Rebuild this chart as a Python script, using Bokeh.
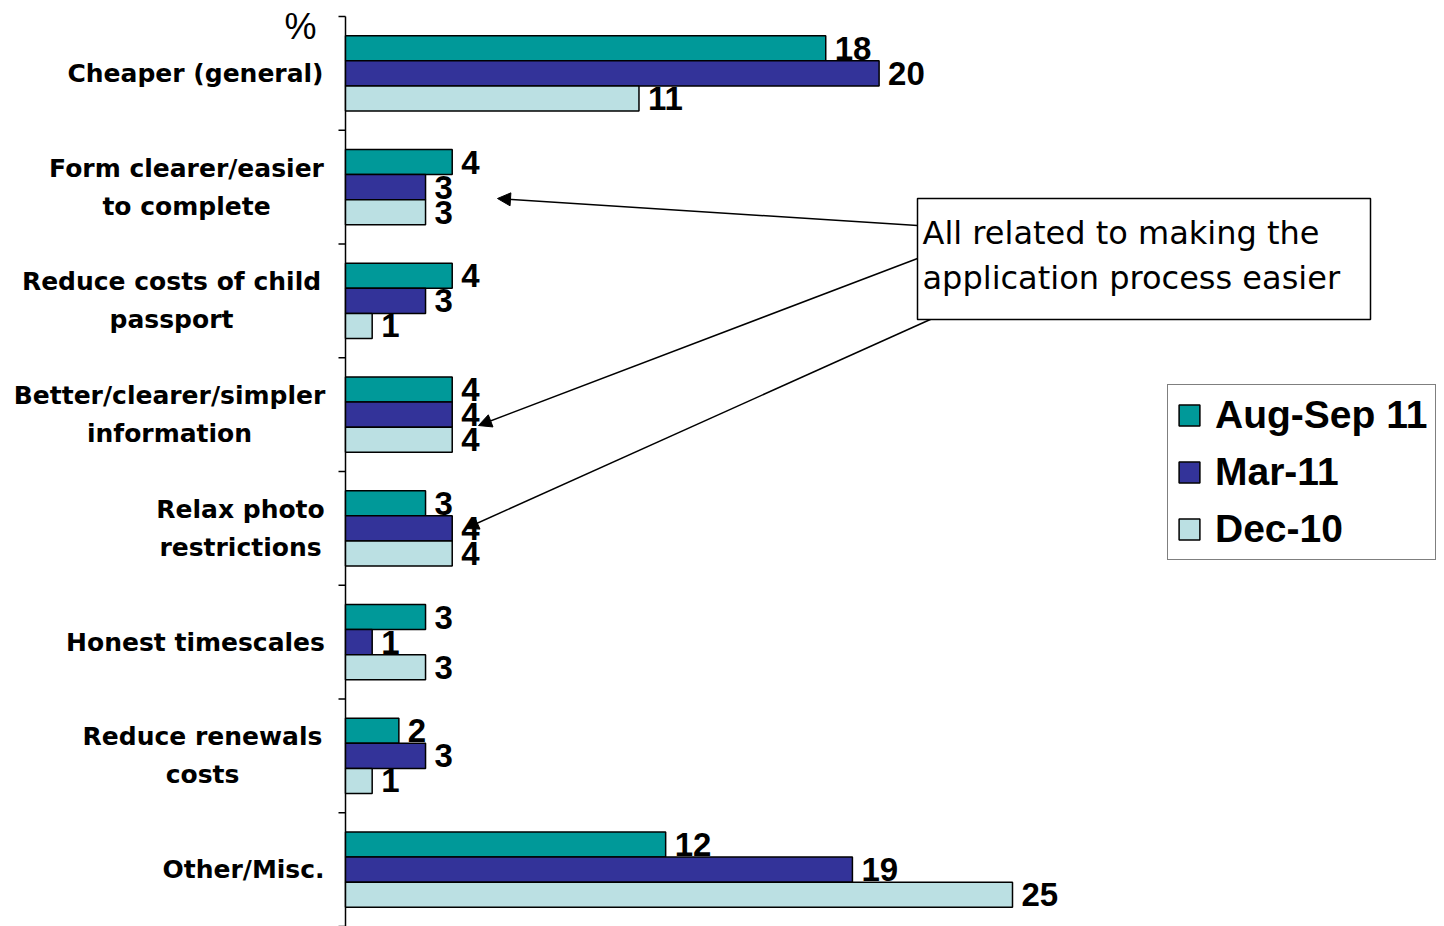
from bokeh.plotting import figure
from bokeh.models import (Range1d, Legend, LegendItem, BoxAnnotation, Arrow, NormalHead,
                          ColumnDataSource, Label)
from bokeh.core.properties import value
from bokeh.embed import file_html
from bokeh.resources import INLINE

# ---- data -------------------------------------------------------------
categories = [
    "Cheaper (general)",
    "Form clearer/easier\nto complete",
    "Reduce costs of child\npassport",
    "Better/clearer/simpler\ninformation",
    "Relax photo\nrestrictions",
    "Honest timescales",
    "Reduce renewals\ncosts",
    "Other/Misc.",
]
series_names = ["Aug-Sep 11", "Mar-11", "Dec-10"]
aug_sep_11 = [18, 4, 4, 4, 3, 3, 2, 12]
mar_11 = [20, 3, 3, 4, 4, 1, 3, 19]
dec_10 = [11, 3, 1, 4, 4, 3, 1, 25]
series_values = [aug_sep_11, mar_11, dec_10]
colors = ["#009999", "#333399", "#BBE0E3"]

# ---- layout -----------------------------------------------------------
W, H = 1444, 926
AXIS_X, TOP = 345, 16            # where the value axis (0 %) and the first band start
PX_PER_PCT = 26.68               # horizontal scale
N = len(categories)
CAT_H = (H - TOP) / N            # pixels per category band
BAR_H = 0.22                     # bar thickness in category units
TICK = 7 / PX_PER_PCT            # tick length, in value units
LINE_GAP = 38                    # line spacing of the two-line labels (px)
label_centers_px = [195, 186, 171, 169, 240, 195, 202, 243]


def px_x(px):
    return (px - AXIS_X) / PX_PER_PCT


def px_y(py):
    return (py - TOP) / CAT_H


p = figure(width=W, height=H, output_backend="svg", toolbar_location=None,
           x_range=Range1d(px_x(0), px_x(W)),
           y_range=Range1d(px_y(H), px_y(0)),
           x_axis_type=None, y_axis_type=None,
           min_border_left=0, min_border_top=0,
           min_border_right=0, min_border_bottom=0)
p.outline_line_color = None
p.background_fill_color = "white"
p.border_fill_color = "white"
p.xgrid.visible = False
p.ygrid.visible = False

# ---- category axis: spine, band ticks and labels ----------------------
p.segment(x0=[0], y0=[0], x1=[0], y1=[N], line_color="black", line_width=1.5)
bounds = list(range(N + 1))
p.segment(x0=[-TICK] * len(bounds), y0=bounds, x1=[0] * len(bounds), y1=bounds,
          line_color="black", line_width=1.5)

lab_txt, lab_y, lab_dx = [], [], []
for i, (cat, cx) in enumerate(zip(categories, label_centers_px)):
    lines = cat.split("\n")
    for k, line in enumerate(lines):
        lab_txt.append(line)
        lab_y.append(i + 0.5 + (k - (len(lines) - 1) / 2) * LINE_GAP / CAT_H)
        lab_dx.append(cx - AXIS_X)
p.text(x=0, y="y", x_offset="dx", text="t",
       source=ColumnDataSource(dict(t=lab_txt, y=lab_y, dx=lab_dx)),
       text_align="center", text_baseline="middle",
       text_font=value("DejaVu Sans"), text_font_style="bold",
       text_font_size="25px", text_color="black")

# unit marker at the top of the axis
p.text(x=[0], y=[px_y(26)], x_offset=-45, text=["%"],
       text_align="center", text_baseline="middle",
       text_font=value("Liberation Sans"), text_font_size="36px", text_color="black")

# ---- bars -------------------------------------------------------------
offsets = [-BAR_H, 0.0, BAR_H]
renderers = []
for vals, col, off in zip(series_values, colors, offsets):
    ys = [i + 0.5 + off for i in range(N)]
    src = ColumnDataSource(dict(y=ys, right=vals, txt=[str(v) for v in vals]))
    r = p.hbar(y="y", left=0, right="right", height=BAR_H, source=src,
               fill_color=col, line_color="black", line_width=1.5)
    renderers.append(r)
    p.text(x="right", y="y", text="txt", source=src, x_offset=9,
           text_baseline="middle", text_align="left",
           text_font=value("Liberation Sans"), text_font_style="bold",
           text_font_size="33px", text_color="black")

# ---- callout box with arrows -----------------------------------------
arrow_lines = [((917, 225), (497, 198)), ((917, 258), (478, 425)), ((932, 318), (465, 528))]
for (sx, sy), (ex, ey) in arrow_lines:
    p.add_layout(Arrow(end=NormalHead(size=13, fill_color="black", line_color="black"),
                       x_start=px_x(sx), y_start=px_y(sy), x_end=px_x(ex), y_end=px_y(ey),
                       line_color="black", line_width=1.5))

p.add_layout(BoxAnnotation(left=px_x(917), right=px_x(1370), top=px_y(198), bottom=px_y(319),
                           fill_color="white", fill_alpha=1.0,
                           line_color="black", line_width=1.5, line_alpha=1.0))
for txt, py in [("All related to making the", 232), ("application process easier", 277)]:
    p.add_layout(Label(x=px_x(922), y=px_y(py), text=txt,
                       text_align="left", text_baseline="middle",
                       text_font="DejaVu Sans", text_font_size="32px",
                       text_color="black"))

# ---- legend -----------------------------------------------------------
legend = Legend(items=[LegendItem(label=n, renderers=[r]) for n, r in zip(series_names, renderers)],
                location=(1167, H - 560), orientation="vertical",
                border_line_color="black", border_line_width=1.5,
                background_fill_color="white", background_fill_alpha=1.0,
                label_text_font="Liberation Sans", label_text_font_style="bold",
                label_text_font_size="39px", label_text_color="black",
                glyph_width=26, glyph_height=26, label_standoff=13,
                padding=8, spacing=13, margin=0)
p.add_layout(legend)

open("out.html", "w").write(file_html(p, INLINE))
